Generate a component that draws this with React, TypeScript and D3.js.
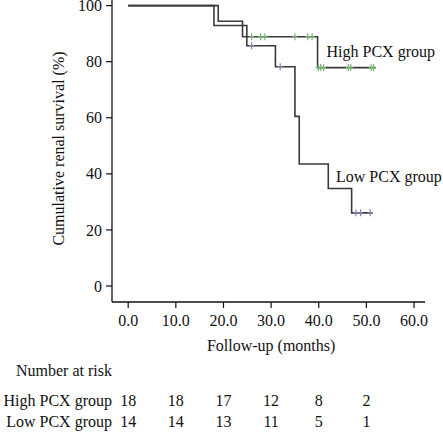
import React from "react";
import * as d3 from "d3";

const highTimes = [0, 18.9, 24.0, 39.75];
const highSurv = [100, 94.4, 88.9, 77.9];
const highEnd = 52.0;
const highCensor = [25.9, 27.8, 28.7, 35.0, 37.7, 38.6, 39.9, 40.4, 41.0, 46.2, 46.7, 51.0, 51.5];

const lowTimes = [0, 18.0, 24.9, 30.9, 35.0, 35.9, 42.0, 46.9];
const lowSurv = [100, 92.9, 85.7, 78.2, 60.5, 43.5, 34.8, 26.1];
const lowEnd = 51.3;
const lowCensor = [25.9, 31.9, 47.8, 48.8, 50.8];

const xTicks = [0, 10, 20, 30, 40, 50, 60];
const yTicks = [0, 20, 40, 60, 80, 100];
const riskTimes = [0, 10, 20, 30, 40, 50];
const highRisk = [18, 18, 17, 12, 8, 2];
const lowRisk = [14, 14, 13, 11, 5, 1];

const FONT = "'Liberation Serif', 'Times New Roman', serif";

function survAt(times: number[], surv: number[], t: number) {
  let s = surv[0];
  for (let i = 0; i < times.length; i++) if (times[i] <= t) s = surv[i];
  return s;
}

export default function App() {
  const x = d3.scaleLinear().domain([-3.4, 62.3]).range([112, 425]);
  const y = d3.scaleLinear().domain([-5.7, 102]).range([302, 0]);
  const line = d3
    .line<[number, number]>()
    .x((d) => x(d[0]))
    .y((d) => y(d[1]))
    .curve(d3.curveStepAfter);

  const mk = (times: number[], surv: number[], end: number): [number, number][] => {
    const pts: [number, number][] = times.map((t, i) => [t, surv[i]]);
    pts.push([end, surv[surv.length - 1]]);
    return pts;
  };

  const curves = [
    { times: highTimes, surv: highSurv, end: highEnd, censor: highCensor, color: "#72b46c" },
    { times: lowTimes, surv: lowSurv, end: lowEnd, censor: lowCensor, color: "#8383b3" },
  ];

  const risk = [
    { label: "High PCX group", vals: highRisk, y: 406 },
    { label: "Low PCX group", vals: lowRisk, y: 427 },
  ];

  return (
    <svg
      width={443}
      height={432}
      style={{ position: "absolute", left: 0, top: 0, background: "#fff" }}
      fontFamily={FONT}
      fontSize={16}
    >
      {/* axes */}
      <line x1={112} x2={112} y1={0} y2={302} stroke="#111" strokeWidth={1.3} />
      <line x1={112} x2={425} y1={302} y2={302} stroke="#111" strokeWidth={1.3} />
      {yTicks.map((v) => (
        <g key={"y" + v}>
          <line x1={106} x2={112} y1={y(v)} y2={y(v)} stroke="#111" strokeWidth={1.2} />
          <text x={102} y={y(v)} dy="0.35em" textAnchor="end" fill="#111">
            {v}
          </text>
        </g>
      ))}
      {xTicks.map((v) => (
        <g key={"x" + v}>
          <line x1={x(v)} x2={x(v)} y1={302} y2={308} stroke="#111" strokeWidth={1.2} />
          <text x={x(v)} y={325.5} textAnchor="middle" fill="#111">
            {d3.format(".1f")(v)}
          </text>
        </g>
      ))}
      <text x={x(30)} y={350.5} textAnchor="middle" fill="#111">
        Follow-up (months)
      </text>
      <text
        transform={`translate(63.5,148.5) rotate(-90)`}
        textAnchor="middle"
        fill="#111"
      >
        Cumulative renal survival (%)
      </text>

      {/* curves */}
      {curves.map((c, i) => (
        <path
          key={"c" + i}
          d={line(mk(c.times, c.surv, c.end)) || ""}
          fill="none"
          stroke="#3a3a3a"
          strokeWidth={1.6}
        />
      ))}
      {curves.map((c, i) =>
        c.censor.map((t, j) => {
          const cx = x(t);
          const cy = y(survAt(c.times, c.surv, t));
          return (
            <g key={"m" + i + "-" + j} stroke={c.color} strokeWidth={1.2}>
              <line x1={cx} x2={cx} y1={cy - 3.5} y2={cy + 3.5} />
              <line x1={cx - 2.5} x2={cx + 2.5} y1={cy} y2={cy} />
            </g>
          );
        })
      )}
      <text x={326.5} y={57} fill="#111">
        High PCX group
      </text>
      <text x={336} y={181.5} fill="#111">
        Low PCX group
      </text>

      {/* risk table */}
      <text x={112} y={375.5} textAnchor="end" fill="#111">
        Number at risk
      </text>
      {risk.map((r) => (
        <g key={r.label}>
          <text x={112} y={r.y} textAnchor="end" fill="#111">
            {r.label}
          </text>
          {r.vals.map((v, k) => (
            <text key={k} x={x(riskTimes[k])} y={r.y} textAnchor="middle" fill="#111">
              {v}
            </text>
          ))}
        </g>
      ))}
    </svg>
  );
}
